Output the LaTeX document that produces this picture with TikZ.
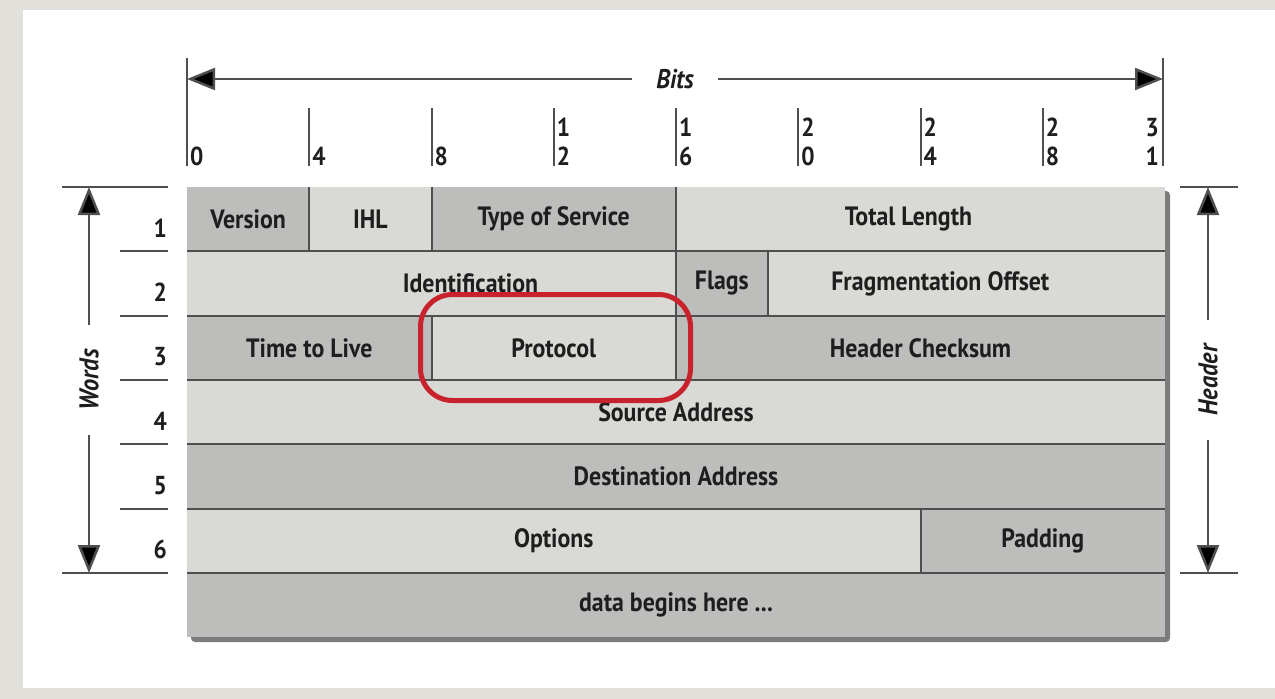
\documentclass[tikz,border=0pt]{standalone}
\usepackage{fontspec}
\setmainfont{PT Sans}[FakeStretch=0.9]
\usetikzlibrary{arrows.meta, positioning}

\definecolor{pktdark}{HTML}{BDBDBB}
\definecolor{pktlight}{HTML}{D9D9D6}
\definecolor{pktline}{HTML}{4F4F4F}
\definecolor{pktshadow}{HTML}{7C7C7C}
\definecolor{pktred}{HTML}{C8232C}
\definecolor{pktbg}{HTML}{E2E0DB}
\definecolor{pkttext}{HTML}{1E1E1E}

% one bit and one word, in px
\newcommand{\bitw}{30.5625}
\newcommand{\rowh}{64.33}

\tikzset{
	fld/.style={anchor=north west, inner sep=0pt, outer sep=0pt, minimum height=\rowh pt,
		text=pkttext, font=\fontsize{26.5}{28}\selectfont\bfseries},
	dk/.style={fld, fill=pktdark},
	lt/.style={fld, fill=pktlight},
	sep/.style={draw=pktline, line width=2pt},
	dim/.style={draw=pktline, line width=2pt},
	dimarr/.style={draw=pktline, line width=2.5pt, -{Triangle[length=28pt,width=22pt,fill=black]}},
	bitlbl/.style={inner sep=0pt, font=\fontsize{26}{29}\selectfont\bfseries, align=left, text=pkttext},
	rownum/.style={inner sep=0pt, font=\fontsize{26}{28}\selectfont\bfseries, text=pkttext},
	dimlbl/.style={inner ysep=0pt, inner xsep=24pt, font=\fontsize{27}{28}\selectfont\bfseries\itshape, text=pkttext},
}

\begin{document}
\begin{tikzpicture}[x=1pt,y=-1pt]
	\useasboundingbox (0,0) rectangle (1275,699);
	\fill[pktbg] (0,0) rectangle (1275,699);
	\fill[white] (23,10) rectangle (1275,688);
	
	% shadow behind the header
	\fill[pktshadow, rounded corners=4pt] (191,191) rectangle (1170,642);
	
	% the fields, word by word
	\node[dk, minimum width=4*\bitw pt] (version) at (187,187) {Version};
	\node[lt, minimum width=4*\bitw pt] (ihl) at (version.north east) {IHL};
	\node[dk, minimum width=8*\bitw pt] (tos) at (ihl.north east) {Type of Service};
	\node[lt, minimum width=16*\bitw pt] (totlen) at (tos.north east) {Total Length\hspace*{24pt}};
	
	\node[lt, minimum width=16*\bitw pt] (ident) at (version.south west) {\hspace*{78pt}Identification};
	\node[dk, minimum width=3*\bitw pt] (flags) at (ident.north east) {Flags};
	\node[lt, minimum width=13*\bitw pt] (frag) at (flags.north east) {Fragmentation Offset\hspace*{52pt}};
	
	\node[dk, minimum width=8*\bitw pt] (ttl) at (ident.south west) {Time to Live};
	\node[lt, minimum width=8*\bitw pt] (proto) at (ttl.north east) {Protocol};
	\node[dk, minimum width=16*\bitw pt] (chksum) at (proto.north east) {Header Checksum};
	
	\node[lt, minimum width=32*\bitw pt] (src) at (ttl.south west) {Source Address};
	\node[dk, minimum width=32*\bitw pt] (dst) at (src.south west) {Destination Address};
	
	\node[lt, minimum width=24*\bitw pt] (opts) at (dst.south west) {Options};
	\node[dk, minimum width=8*\bitw pt] (pad) at (opts.north east) {Padding};
	
	\node[dk, minimum width=32*\bitw pt] (data) at (opts.south west) {data begins here ...};
	
	% separators
	\foreach \f in {ident,ttl,src,dst,opts,data}
		\draw[sep] (\f.north west) -- (\f.north west -| data.north east);
	\foreach \f in {version,ihl,tos,ident,flags,ttl,proto,opts}
		\draw[sep] (\f.north east) -- (\f.south east);
	
	% bit scale
	\node[dimlbl] (bits) at (675,79) {Bits};
	\coordinate (bitl) at (187,79);
	\coordinate (bitr) at (1163,79);
	\draw[dimarr] (bits.west) -- (bitl);
	\draw[dimarr] (bits.east) -- (bitr);
	\draw[dim] (187,58) -- (187,166);
	\draw[dim] (1163,58) -- (1163,166);
	\foreach \b in {4,8,...,28}
		\draw[dim] (187+\b*\bitw,108) -- (187+\b*\bitw,166);
	\foreach \b/\t in {0/0,4/4,8/8,12/{1\\2},16/{1\\6},20/{2\\0},24/{2\\4},28/{2\\8}}
		\node[bitlbl, anchor=south west] (bl\b) at (190+\b*\bitw,166) {\t};
	\node[bitlbl, anchor=south east] (bl31) at (1159,166) {3\\1};
	
	% words, left
	\draw[dim] (62,187) -- (168,187);
	\draw[dim] (62,573) -- (168,573);
	\foreach \r in {1,...,5}
		\draw[dim] (120,187+\r*\rowh) -- (168,187+\r*\rowh);
	\foreach \r in {1,...,6}
		\node[rownum, anchor=base east] (n\r) at (167,187+\r*\rowh-14) {\r};
	\node[dimlbl, rotate=90] (words) at (89,380) {Words};
	\coordinate (wtop) at (89,187);
	\coordinate (wbot) at (89,573);
	\draw[dimarr] (words.east) -- (wtop);
	\draw[dimarr] (words.west) -- (wbot);
	
	% header, right
	\draw[dim] (1180,187) -- (1238,187);
	\draw[dim] (1180,573) -- (1238,573);
	\node[dimlbl, rotate=90] (hdr) at (1208,380) {Header};
	\coordinate (htop) at (1208,187);
	\coordinate (hbot) at (1208,573);
	\draw[dimarr] (hdr.east) -- (htop);
	\draw[dimarr] (hdr.west) -- (hbot);
	
	% highlight
	\node[draw=pktred, line width=5pt, rounded corners=32pt, minimum width=270pt,
		minimum height=106pt] (hl) at (555.5,347.5) {};
\end{tikzpicture}
\end{document}
